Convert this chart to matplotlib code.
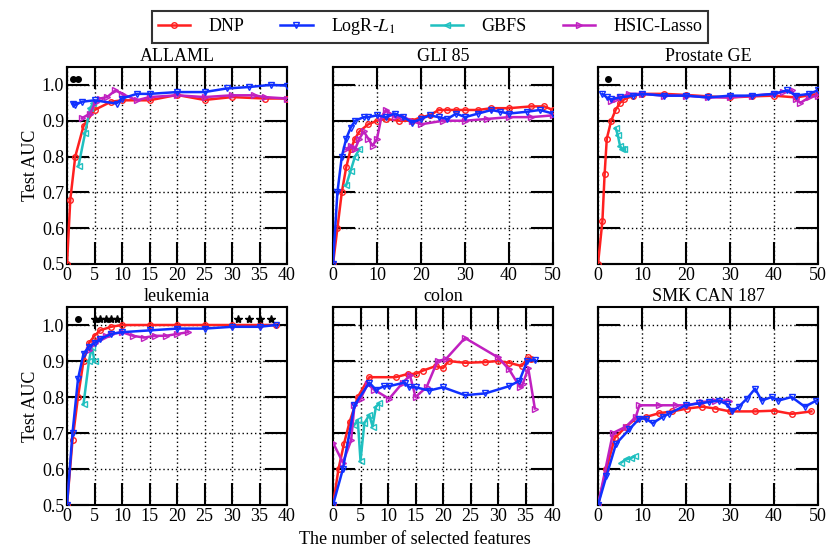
import matplotlib
matplotlib.use("Agg")
import matplotlib.pyplot as plt

plt.rcParams['font.family'] = ['Liberation Serif', 'DejaVu Serif']
plt.rcParams['mathtext.fontset'] = 'stix'

methods = ["DNP", "LogR-$L_1$", "GBFS", "HSIC-Lasso"]
colors = ["#ff2020", "#1030ff", "#20c0c0", "#c020c0"]
markers = ["o", "v", "<", ">"]

# ---- ALLAML ----
allaml_dnp_x = [0, 0.6, 1.5, 3, 5, 8, 10, 15, 20, 25, 30, 36, 40]
allaml_dnp_y = [0.5, 0.68, 0.8, 0.885, 0.93, 0.953, 0.957, 0.957, 0.972, 0.958, 0.966, 0.962, 0.962]
allaml_log_x = [1, 1.5, 2.7, 5, 9, 10, 12.7, 15, 20, 25, 29, 33, 37, 40]
allaml_log_y = [0.948, 0.944, 0.953, 0.957, 0.948, 0.962, 0.975, 0.975, 0.98, 0.98, 0.99, 0.994, 1.0, 0.998]
allaml_gbfs_x = [2.1, 3.3, 4.2, 4.8]
allaml_gbfs_y = [0.775, 0.866, 0.935, 0.95]
allaml_hsic_x = [2.7, 4.2, 5.2, 6, 7.3, 8.8, 10, 12.7, 15, 20, 25, 30, 34, 36, 40]
allaml_hsic_y = [0.907, 0.92, 0.953, 0.962, 0.966, 0.985, 0.975, 0.957, 0.966, 0.971, 0.966, 0.971, 0.971, 0.966, 0.962]
allaml_dot_x = [1, 2]

# ---- GLI 85 ----
gli_dnp_x = [0, 1, 2, 3, 4, 5, 6, 8, 10, 12, 15, 18, 20, 22, 24, 26, 28, 30, 33, 36, 40, 45, 48, 50]
gli_dnp_y = [0.5, 0.6, 0.7, 0.77, 0.82, 0.85, 0.87, 0.89, 0.9, 0.905, 0.9, 0.9, 0.91, 0.915, 0.93, 0.93, 0.93, 0.93, 0.93, 0.935, 0.935, 0.94, 0.94, 0.93]
gli_log_x = [0, 1, 2, 3, 4, 5, 7, 8, 10, 12, 14, 16, 18, 20, 22, 24, 26, 28, 30, 33, 36, 38, 40, 44, 47, 50]
gli_log_y = [0.5, 0.7, 0.8, 0.85, 0.88, 0.9, 0.91, 0.91, 0.915, 0.91, 0.92, 0.91, 0.895, 0.905, 0.915, 0.91, 0.905, 0.92, 0.91, 0.92, 0.93, 0.925, 0.92, 0.925, 0.93, 0.92]
gli_gbfs_x = [3, 4, 5, 6]
gli_gbfs_y = [0.72, 0.76, 0.8, 0.82]
gli_hsic_x = [3, 4, 5, 6, 7, 8, 9, 10, 11, 12, 13, 14, 16, 18, 20, 25, 30, 35, 40, 45, 50]
gli_hsic_y = [0.82, 0.83, 0.82, 0.85, 0.87, 0.85, 0.83, 0.85, 0.91, 0.93, 0.92, 0.91, 0.91, 0.9, 0.89, 0.9, 0.9, 0.905, 0.91, 0.91, 0.915]

# ---- Prostate GE ----
pro_dnp_x = [0, 1, 1.5, 2, 3, 4, 5, 6, 8, 10, 15, 20, 25, 30, 35, 40, 45, 50]
pro_dnp_y = [0.5, 0.62, 0.75, 0.85, 0.9, 0.93, 0.95, 0.96, 0.97, 0.975, 0.975, 0.972, 0.968, 0.965, 0.968, 0.97, 0.965, 0.975]
pro_log_x = [1, 2, 3, 5, 8, 10, 15, 20, 25, 30, 35, 40, 43, 45, 48, 50]
pro_log_y = [0.975, 0.965, 0.96, 0.965, 0.97, 0.975, 0.97, 0.97, 0.965, 0.97, 0.97, 0.975, 0.985, 0.97, 0.975, 0.985]
pro_gbfs_x = [4, 4.5, 5, 5.5, 6]
pro_gbfs_y = [0.88, 0.86, 0.83, 0.82, 0.82]
pro_hsic_x = [3, 4, 5, 7, 10, 15, 20, 25, 30, 35, 40, 42, 44, 45, 46, 48, 50]
pro_hsic_y = [0.955, 0.96, 0.965, 0.975, 0.975, 0.97, 0.97, 0.965, 0.965, 0.97, 0.975, 0.98, 0.985, 0.96, 0.95, 0.965, 0.97]
pro_dot_x = [2.3]

# ---- leukemia ----
leu_dnp_x = [0, 1, 2, 3, 4, 5, 6, 8, 10, 15, 20, 25, 30, 35, 38]
leu_dnp_y = [0.5, 0.68, 0.8, 0.9, 0.95, 0.97, 0.985, 0.995, 1.0, 1.0, 1.0, 1.0, 1.0, 1.0, 1.0]
leu_log_x = [0, 1, 2, 3, 4, 5, 6, 8, 10, 15, 20, 25, 30, 35, 38]
leu_log_y = [0.5, 0.7, 0.85, 0.92, 0.94, 0.95, 0.96, 0.975, 0.98, 0.985, 0.99, 0.99, 0.995, 0.995, 1.0]
leu_gbfs_x = [3, 4, 4.5, 5]
leu_gbfs_y = [0.78, 0.9, 0.94, 0.9]
leu_hsic_x = [4, 5, 6, 7, 8, 10, 12, 14, 16, 18, 20, 22]
leu_hsic_y = [0.93, 0.95, 0.96, 0.97, 0.975, 0.98, 0.97, 0.965, 0.97, 0.97, 0.975, 0.98]
leu_dot_x = [2]
leu_star_x = [5, 6, 7, 8, 9, 31, 33, 35, 37]

# ---- colon ----
col_dnp_x = [0, 1, 2, 3, 4.5, 6.6, 11.4, 13.6, 15, 16.3, 18.7, 20, 21, 24, 27.7, 30, 32, 34.3, 35.5, 36]
col_dnp_y = [0.5, 0.6, 0.67, 0.73, 0.8, 0.855, 0.855, 0.864, 0.864, 0.873, 0.886, 0.88, 0.9, 0.895, 0.897, 0.9, 0.895, 0.886, 0.91, 0.905]
col_log_x = [0, 1.8, 3.9, 6.6, 7.8, 9.3, 10.2, 13, 13.9, 15, 17.5, 20, 24, 27.7, 32, 33.9, 35.3, 36.7]
col_log_y = [0.5, 0.6, 0.777, 0.84, 0.82, 0.83, 0.83, 0.84, 0.827, 0.827, 0.818, 0.827, 0.805, 0.81, 0.83, 0.845, 0.9, 0.903]
col_gbfs_x = [3.9, 4.5, 5, 5.7, 6.6, 7.2, 7.8, 8.4]
col_gbfs_y = [0.723, 0.736, 0.623, 0.727, 0.75, 0.718, 0.773, 0.782]
col_hsic_x = [0, 1.8, 3.3, 3.9, 5, 6.3, 7.5, 10.2, 12.7, 14, 15, 17, 19, 20.5, 24, 30, 32, 34, 34.5, 35.5, 36.7]
col_hsic_y = [0.673, 0.618, 0.68, 0.777, 0.795, 0.836, 0.82, 0.795, 0.84, 0.86, 0.8, 0.827, 0.9, 0.905, 0.964, 0.91, 0.877, 0.827, 0.836, 0.88, 0.768]

# ---- SMK CAN 187 ----
smk_dnp_x = [0, 1.9, 3.8, 6.4, 8.6, 11, 13.9, 16.9, 20.3, 23.7, 26.7, 30, 35.7, 40, 44, 48.5]
smk_dnp_y = [0.5, 0.6, 0.686, 0.718, 0.74, 0.745, 0.755, 0.76, 0.768, 0.773, 0.768, 0.76, 0.76, 0.762, 0.753, 0.76]
smk_log_x = [0, 1.9, 4.1, 7.1, 9.4, 10.9, 12.4, 14.7, 16.2, 19.9, 22.9, 25.2, 27.4, 29.3, 30.5, 32, 33.8, 35.7, 37.2, 39.5, 41, 44, 47, 49.6]
smk_log_y = [0.5, 0.58, 0.67, 0.71, 0.74, 0.74, 0.727, 0.745, 0.754, 0.777, 0.782, 0.786, 0.79, 0.78, 0.76, 0.773, 0.795, 0.823, 0.79, 0.8, 0.79, 0.8, 0.773, 0.79]
smk_gbfs_x = [5.3, 6.4, 7.5, 8.3]
smk_gbfs_y = [0.618, 0.627, 0.63, 0.636]
smk_hsic_x = [0, 3.4, 6.4, 8.6, 9.4, 13.9, 17.7, 20.3, 23.7, 26.7, 29.7]
smk_hsic_y = [0.5, 0.7, 0.718, 0.745, 0.777, 0.777, 0.777, 0.777, 0.786, 0.79, 0.79]

panels = [
    dict(title="ALLAML", xmax=40, xstep=5,
         series=[(allaml_dnp_x, allaml_dnp_y), (allaml_log_x, allaml_log_y),
                 (allaml_gbfs_x, allaml_gbfs_y), (allaml_hsic_x, allaml_hsic_y)],
         dots=allaml_dot_x, stars=[]),
    dict(title="GLI_85", xmax=50, xstep=10,
         series=[(gli_dnp_x, gli_dnp_y), (gli_log_x, gli_log_y),
                 (gli_gbfs_x, gli_gbfs_y), (gli_hsic_x, gli_hsic_y)],
         dots=[], stars=[]),
    dict(title="Prostate_GE", xmax=50, xstep=10,
         series=[(pro_dnp_x, pro_dnp_y), (pro_log_x, pro_log_y),
                 (pro_gbfs_x, pro_gbfs_y), (pro_hsic_x, pro_hsic_y)],
         dots=pro_dot_x, stars=[]),
    dict(title="leukemia", xmax=40, xstep=5,
         series=[(leu_dnp_x, leu_dnp_y), (leu_log_x, leu_log_y),
                 (leu_gbfs_x, leu_gbfs_y), (leu_hsic_x, leu_hsic_y)],
         dots=leu_dot_x, stars=leu_star_x),
    dict(title="colon", xmax=40, xstep=5,
         series=[(col_dnp_x, col_dnp_y), (col_log_x, col_log_y),
                 (col_gbfs_x, col_gbfs_y), (col_hsic_x, col_hsic_y)],
         dots=[], stars=[]),
    dict(title="SMK_CAN_187", xmax=50, xstep=10,
         series=[(smk_dnp_x, smk_dnp_y), (smk_log_x, smk_log_y),
                 (smk_gbfs_x, smk_gbfs_y), (smk_hsic_x, smk_hsic_y)],
         dots=[], stars=[]),
]

yticks = [0.5, 0.6, 0.7, 0.8, 0.9, 1.0]

W, H = 830, 553
fig = plt.figure(figsize=(W / 100, H / 100), dpi=100)

cols_px = [(67, 287), (333, 553), (598, 818)]
rows_px = [(67, 264), (307, 505)]

handles = []
for i, p in enumerate(panels):
    r, c = divmod(i, 3)
    x0, x1 = cols_px[c]
    y0, y1 = rows_px[r]
    ax = fig.add_axes([x0 / W, 1 - y1 / H, (x1 - x0) / W, (y1 - y0) / H])
    for k, (xs, ys) in enumerate(p["series"]):
        ln, = ax.plot(xs, ys, color=colors[k], lw=1.8, marker=markers[k], ms=4,
                      mfc="none", mew=1.0, zorder=3 + (k == 1))
        if i == 0:
            handles.append(ln)
    if p["dots"]:
        ax.plot(p["dots"], [1.017] * len(p["dots"]), "o", color="black", ms=4, zorder=5)
    if p["stars"]:
        ax.plot(p["stars"], [1.017] * len(p["stars"]), "*", color="black", ms=6, zorder=5)
    ax.set_xlim(0, p["xmax"])
    ax.set_ylim(0.5, 1.05)
    ax.set_xticks(list(range(0, p["xmax"] + 1, p["xstep"])))
    ax.set_yticks(yticks)
    if c == 0:
        ax.set_yticklabels([f"{v:.1f}" for v in yticks])
        ax.set_ylabel("Test AUC", fontsize=13, labelpad=2)
    else:
        ax.set_yticklabels([])
    ax.grid(True, color="black", ls=(0, (1, 2)), lw=1.0)
    ax.tick_params(direction="in", length=16, width=1.5, top=True, right=True,
                   labelsize=13, pad=2, color="black")
    for s in ax.spines.values():
        s.set_linewidth(1.5)
    ax.set_title(p["title"].replace("_", " "), fontsize=13, pad=4)

fig.text(415 / W, 1 - 540 / H, "The number of selected features", ha="center", va="center", fontsize=13)

leg = fig.legend(handles, methods, loc="upper center", bbox_to_anchor=(430 / W, 0.997),
                 ncol=4, fontsize=13, frameon=True, fancybox=False, edgecolor="black",
                 handlelength=1.8, columnspacing=2.0, borderpad=0.3, handletextpad=1.0)
leg.get_frame().set_linewidth(1.5)

fig.savefig("out.png", dpi=100)
